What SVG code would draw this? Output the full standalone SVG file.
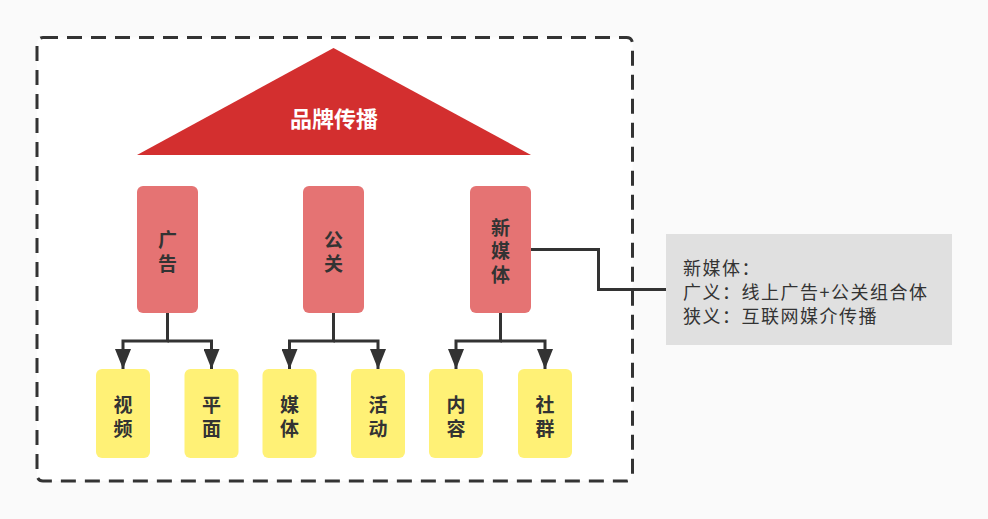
<svg xmlns="http://www.w3.org/2000/svg" width="988" height="519" viewBox="0 0 988 519">
<style>
.lbl{font-family:"Noto Sans CJK SC","Noto Sans",sans-serif;font-weight:bold;font-size:19px;fill:#333;text-anchor:middle;dominant-baseline:central}
.red{fill:#e57373}
.yel{fill:#fff176}
.con{fill:none;stroke:#333;stroke-width:3}
.note{font-family:"Noto Sans CJK SC","Noto Sans",sans-serif;font-size:18px;letter-spacing:1.5px;fill:#333;dominant-baseline:central}
</style>
<defs>
<marker id="arr" viewBox="0 0 20 16" refX="20" refY="8" markerWidth="20" markerHeight="16" markerUnits="userSpaceOnUse" orient="auto">
<path d="M0,0 L20,8 L0,16 Z" fill="#333"/>
</marker>
</defs>
<rect x="0" y="0" width="988" height="519" fill="#fafafa"/>
<g id="frame">
<rect x="37" y="37.5" width="595.5" height="443.5" rx="6" fill="#ffffff" stroke="#333" stroke-width="3" stroke-dasharray="15 9"/>
</g>
<g id="roof">
<polygon points="333.5,48 531,155 137,155" fill="#d32f2f"/>
<text x="334" y="117" style="font-family:'Noto Sans CJK SC','Noto Sans',sans-serif;font-weight:bold;font-size:22px;fill:#ffffff;text-anchor:middle;dominant-baseline:central">品牌传播</text>
</g>
<g id="connectors">
<path class="con" d="M167.5,313 V341 H123 V369" marker-end="url(#arr)"/>
<path class="con" d="M167.5,341 H211.5 V369" marker-end="url(#arr)"/>
<path class="con" d="M333.5,313 V341 H289.5 V369" marker-end="url(#arr)"/>
<path class="con" d="M333.5,341 H378 V369" marker-end="url(#arr)"/>
<path class="con" d="M500.5,313 V341 H456 V369" marker-end="url(#arr)"/>
<path class="con" d="M500.5,341 H545 V369" marker-end="url(#arr)"/>
<path class="con" d="M531,249.5 H598.5 V289.5 H666"/>
</g>
<g id="n-ad"><rect class="red" x="137" y="186" width="61" height="127" rx="6"/><text class="lbl" x="167.5" y="238">广</text><text class="lbl" x="167.5" y="262">告</text></g>
<g id="n-pr"><rect class="red" x="303" y="186" width="61" height="127" rx="6"/><text class="lbl" x="333.5" y="238">公</text><text class="lbl" x="333.5" y="262">关</text></g>
<g id="n-nm"><rect class="red" x="470" y="186" width="61" height="127" rx="6"/><text class="lbl" x="500.5" y="226">新</text><text class="lbl" x="500.5" y="249.5">媒</text><text class="lbl" x="500.5" y="273">体</text></g>
<g id="n-video"><rect class="yel" x="96" y="369" width="54" height="89" rx="6"/><text class="lbl" x="123" y="403">视</text><text class="lbl" x="123" y="427">频</text></g>
<g id="n-print"><rect class="yel" x="184.5" y="369" width="54" height="89" rx="6"/><text class="lbl" x="211.5" y="403">平</text><text class="lbl" x="211.5" y="427">面</text></g>
<g id="n-media"><rect class="yel" x="262.5" y="369" width="54" height="89" rx="6"/><text class="lbl" x="289.5" y="403">媒</text><text class="lbl" x="289.5" y="427">体</text></g>
<g id="n-event"><rect class="yel" x="351" y="369" width="54" height="89" rx="6"/><text class="lbl" x="378" y="403">活</text><text class="lbl" x="378" y="427">动</text></g>
<g id="n-content"><rect class="yel" x="429" y="369" width="54" height="89" rx="6"/><text class="lbl" x="456" y="403">内</text><text class="lbl" x="456" y="427">容</text></g>
<g id="n-community"><rect class="yel" x="518" y="369" width="54" height="89" rx="6"/><text class="lbl" x="545" y="403">社</text><text class="lbl" x="545" y="427">群</text></g>
<g id="n-note">
<rect x="666" y="234" width="286" height="111" fill="#e0e0e0"/>
<text class="note" x="683" y="267">新媒体：</text>
<text class="note" x="683" y="291">广义：线上广告+公关组合体</text>
<text class="note" x="683" y="315">狭义：互联网媒介传播</text>
</g>
</svg>
